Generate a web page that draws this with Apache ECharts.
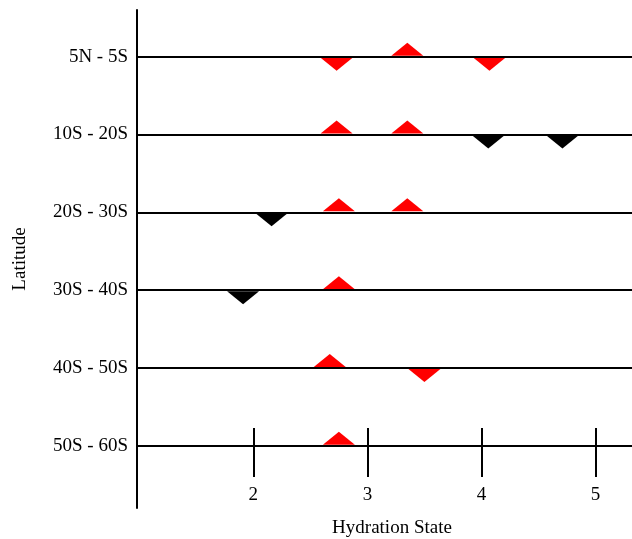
<!DOCTYPE html>
<html>
<head>
<meta charset="utf-8">
<script src="https://cdn.jsdelivr.net/npm/echarts@6/dist/echarts.min.js"></script>
<style>
  html, body { margin: 0; padding: 0; background: #fff; }
  #chart { width: 632px; height: 539px; }
</style>
</head>
<body>
<div id="chart"></div>
<script>
// 纬度带（0 = 最下面一行）
const latitudes = ['50S - 60S', '40S - 50S', '30S - 40S', '20S - 30S', '10S - 20S', '5N - 5S']
const xTicks = [2, 3, 4, 5]

// [hydration state, latitude row]
const redUp = [[2.75, 0], [2.67, 1], [2.75, 2], [2.75, 3], [3.35, 3], [2.73, 4], [3.35, 4], [3.35, 5]]
const redDown = [[3.50, 1], [2.73, 5], [4.07, 5]]
const blackDown = [[1.91, 2], [2.16, 3], [4.06, 4], [4.71, 4]]

const font = 'Liberation Serif'
const fontSize = 19
const chart = echarts.init(document.getElementById('chart'), null, { renderer: 'canvas' })

const xCommon = {
  type: 'value',
  min: 0.98,
  max: 5.32,
  splitLine: { show: false },
  axisLine: { show: false, onZero: false }
}

const option = {
  animation: false,
  grid: { left: 137, right: 0, top: 10, bottom: 31, containLabel: false, outerBoundsMode: 'none' },
  xAxis: [
    {
      ...xCommon,
      position: 'bottom',
      offset: -62,   // 刻度画在最下面那条纬线上
      name: 'Hydration State',
      nameLocation: 'middle',
      nameGap: 73,
      nameTextStyle: { fontFamily: font, fontSize: fontSize, color: '#000', padding: [0, 0, 0, 15] },
      axisTick: { show: true, inside: false, length: 31, customValues: xTicks, lineStyle: { color: '#000', width: 2 } },
      axisLabel: { show: true, margin: 40, customValues: xTicks, fontFamily: font, fontSize: fontSize, color: '#000' }
    },
    {
      ...xCommon,
      position: 'top',
      offset: -436,
      axisTick: { show: true, inside: false, length: 18, customValues: xTicks, lineStyle: { color: '#000', width: 2 } },
      axisLabel: { show: false }
    }
  ],
  yAxis: {
    type: 'value',
    min: -0.8,
    max: 5.6,
    name: 'Latitude',
    nameLocation: 'middle',
    nameGap: 107,
    nameTextStyle: { fontFamily: font, fontSize: fontSize, color: '#000' },
    splitLine: { show: false },
    axisLine: { show: true, onZero: false, lineStyle: { color: '#000', width: 2 } },
    axisTick: { show: false },
    axisLabel: {
      margin: 9,
      customValues: latitudes.map((_, i) => i),
      formatter: v => latitudes[Math.round(v)],
      fontFamily: font, fontSize: fontSize, color: '#000'
    }
  },
  series: [
    {
      type: 'scatter',
      name: 'red up',
      data: redUp,
      symbol: 'triangle',
      symbolSize: [32, 13],
      symbolOffset: [0, -7.5],
      itemStyle: { color: '#ff0000', opacity: 1 },
      z: 3,
      // 每个纬度带的横线
      markLine: {
        silent: true,
        symbol: ['none', 'none'],
        label: { show: false },
        lineStyle: { type: 'solid', color: '#000', width: 2, opacity: 1 },
        data: latitudes.map((_, i) => ({ yAxis: i }))
      }
    },
    {
      type: 'scatter',
      name: 'red down',
      data: redDown,
      symbol: 'triangle',
      symbolRotate: 180,
      symbolSize: [32, 13],
      symbolOffset: [0, 7.5],
      itemStyle: { color: '#ff0000', opacity: 1 },
      z: 3
    },
    {
      type: 'scatter',
      name: 'black down',
      data: blackDown,
      symbol: 'triangle',
      symbolRotate: 180,
      symbolSize: [32, 13],
      symbolOffset: [0, 7.5],
      itemStyle: { color: '#000', opacity: 1 },
      z: 3
    }
  ]
}

chart.setOption(option)
</script>
</body>
</html>
